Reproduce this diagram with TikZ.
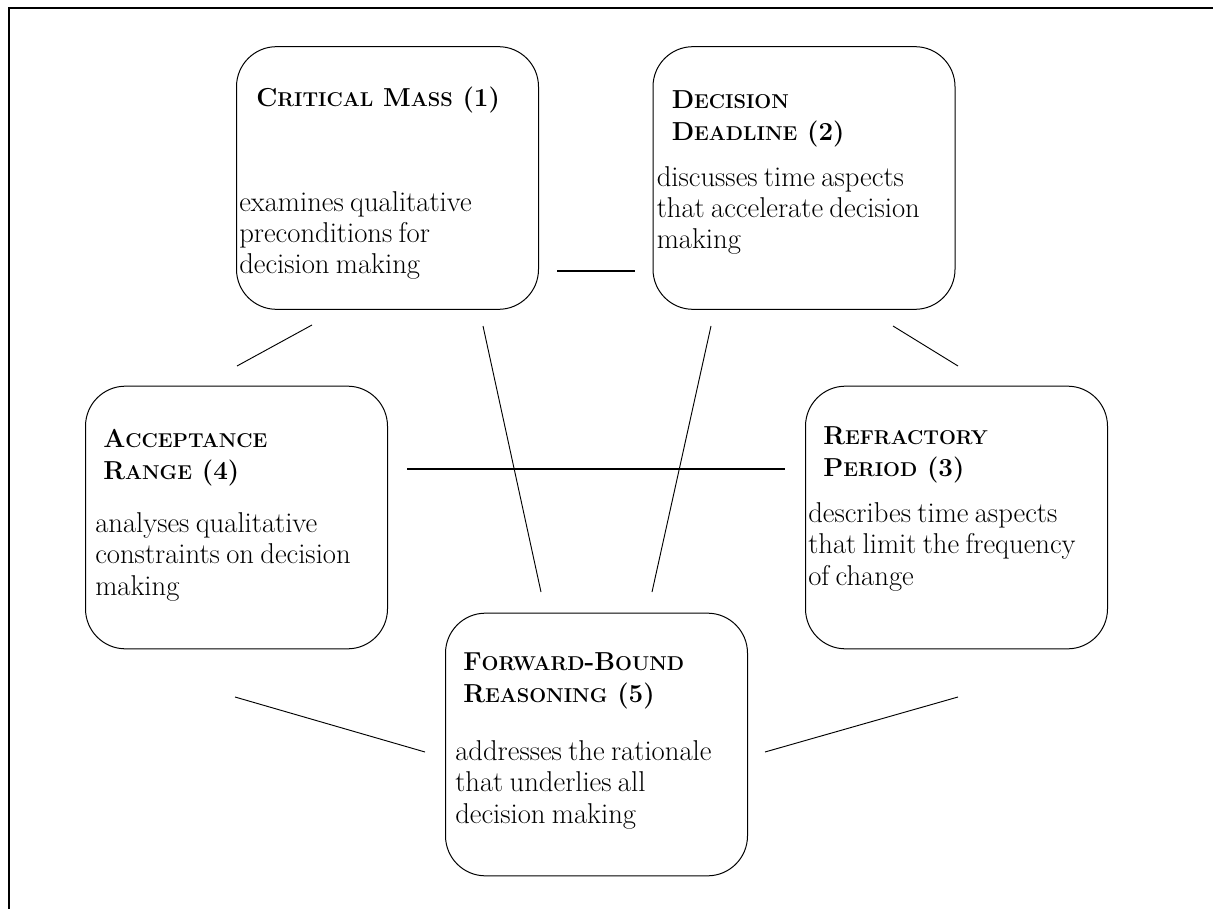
\documentclass[tikz,border=0pt]{standalone}
\usepackage{fontspec}
\newcommand\smcp[1]{{\fontsize{15pt}{17pt}\selectfont #1}}
\newcommand\bodyfnt{\fontsize{21.5pt}{23.4pt}\selectfont\spaceskip 0.22em\relax}
\tikzset{
  box/.style={draw, rounded corners=30pt, minimum width=226.5pt, minimum height=197pt, inner sep=0pt, line width=0.75pt},
  ttl/.style={anchor=base west, inner sep=0pt, font=\fontsize{19.5pt}{24pt}\selectfont\bfseries},
  txt/.style={anchor=base west, inner sep=0pt, font=\bodyfnt},
  link/.style={line width=0.7pt},
  hlink/.style={line width=1.1pt},
  frame/.style={line width=1.5pt}
}
\begin{document}
\begin{tikzpicture}[x=0.75pt,y=-0.75pt]
\useasboundingbox (0,0) rectangle (1213,909);
\draw[frame] (9,912) -- (9,8) -- (1216,8);

% boxes
\node[box] (b1) at (387.5,178) {};
\node[box] (b2) at (804,178) {};
\node[box] (b4) at (236.5,517.5) {};
\node[box] (b3) at (956.5,517.5) {};
\node[box] (b5) at (596.5,744.5) {};

% box 1
\node[ttl] (t1) at ([shift={(20,60)}]b1.north west) {\vtop{\hbox{C\smcp{RITICAL} M\smcp{ASS} (1)}}};
\node[txt] (d1) at ([shift={(3,165)}]b1.north west) {\vtop{\hbox{examines qualitative}\hbox{preconditions for}\hbox{decision making}}};
% box 2
\node[ttl] (t2) at ([shift={(19,62)}]b2.north west) {\vtop{\hbox{D\smcp{ECISION}}\hbox{D\smcp{EADLINE} (2)}}};
\node[txt] (d2) at ([shift={(4,140)}]b2.north west) {\vtop{\hbox{discusses time aspects}\hbox{that accelerate decision}\hbox{making}}};
% box 4
\node[ttl] (t4) at ([shift={(18,62)}]b4.north west) {\vtop{\hbox{A\smcp{CCEPTANCE}}\hbox{R\smcp{ANGE} (4)}}};
\node[txt] (d4) at ([shift={(10,147)}]b4.north west) {\vtop{\hbox{analyses qualitative}\hbox{constraints on decision}\hbox{making}}};
% box 3
\node[ttl] (t3) at ([shift={(18,59)}]b3.north west) {\vtop{\hbox{R\smcp{EFRACTORY}}\hbox{P\smcp{ERIOD} (3)}}};
\node[txt] (d3) at ([shift={(3,137)}]b3.north west) {\vtop{\hbox{describes time aspects}\hbox{that limit the frequency}\hbox{of change}}};
% box 5
\node[ttl] (t5) at ([shift={(18,58)}]b5.north west) {\vtop{\hbox{F\smcp{ORWARD}-B\smcp{OUND}}\hbox{R\smcp{EASONING} (5)}}};
\node[txt] (d5) at ([shift={(10,148)}]b5.north west) {\vtop{\hbox{addresses the rationale}\hbox{that underlies all}\hbox{decision making}}};

% connector end points
\coordinate (c12a) at (557,271); \coordinate (c12b) at (635,271);
\coordinate (c14a) at (312,325); \coordinate (c14b) at (237,366);
\coordinate (c15a) at (483,326); \coordinate (c15b) at (541,592);
\coordinate (c25a) at (711,326); \coordinate (c25b) at (652,592);
\coordinate (c23a) at (893,326); \coordinate (c23b) at (958,366);
\coordinate (c43a) at (407,469); \coordinate (c43b) at (785,469);
\coordinate (c45a) at (235,697); \coordinate (c45b) at (425,752);
\coordinate (c35a) at (958,697); \coordinate (c35b) at (765,752);

\draw[hlink] (c12a) -- (c12b);
\draw[link] (c14a) -- (c14b);
\draw[link] (c15a) -- (c15b);
\draw[link] (c25a) -- (c25b);
\draw[link] (c23a) -- (c23b);
\draw[hlink] (c43a) -- (c43b);
\draw[link] (c45a) -- (c45b);
\draw[link] (c35a) -- (c35b);
\end{tikzpicture}
\end{document}
